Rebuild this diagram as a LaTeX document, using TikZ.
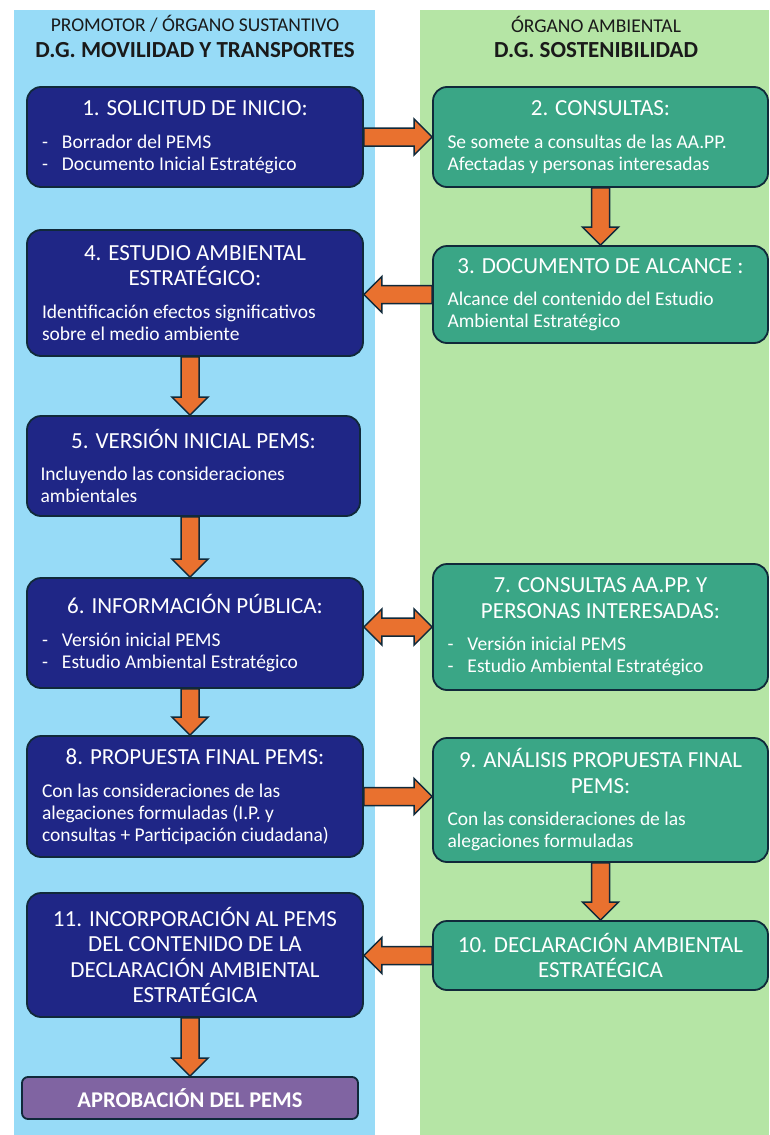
\documentclass[tikz,border=0pt]{standalone}
\usepackage{fontspec}
\setmainfont{Carlito}
\usetikzlibrary{calc,positioning}

\definecolor{bgleft}{HTML}{97DBF7}
\definecolor{bgright}{HTML}{B5E5A5}
\definecolor{navybox}{HTML}{1F2686}
\definecolor{tealbox}{HTML}{3AA686}
\definecolor{purplebox}{HTML}{8064A2}
\definecolor{edge}{HTML}{10293A}
\definecolor{arrorange}{HTML}{E9712F}
\definecolor{headtext}{HTML}{1A1A1A}

\newcommand{\titlesize}{\fontsize{23}{25.5}\selectfont}
\newcommand{\bodysize}{\fontsize{19.5}{22}\selectfont}
\newcommand{\bodytext}[1]{\parbox[t]{306pt}{\bodysize\raggedright #1}}
\newcommand{\itm}{\makebox[20pt][l]{-}}

% block arrow from #1 to #2
\newcommand{\blockarrow}[2]{%
  \coordinate (ba-h) at ($(#2)!18pt!(#1)$);
  \draw[blockarr] ($(#1)!9pt!90:(#2)$) -- ($(ba-h)!9pt!90:(#2)$) -- ($(ba-h)!18pt!90:(#2)$)
    -- (#2) -- ($(ba-h)!18pt!-90:(#2)$) -- ($(ba-h)!9pt!-90:(#2)$) -- ($(#1)!9pt!-90:(#2)$) -- cycle;}
% block arrow with two heads
\newcommand{\dblockarrow}[2]{%
  \coordinate (da-a) at ($(#1)!18pt!(#2)$);
  \coordinate (da-b) at ($(#2)!18pt!(#1)$);
  \draw[blockarr] (#1) -- ($(da-a)!18pt!90:(#2)$) -- ($(da-a)!9pt!90:(#2)$) -- ($(da-b)!9pt!-90:(#1)$)
    -- ($(da-b)!18pt!-90:(#1)$) -- (#2) -- ($(da-b)!18pt!90:(#1)$) -- ($(da-b)!9pt!90:(#1)$)
    -- ($(da-a)!9pt!-90:(#2)$) -- ($(da-a)!18pt!-90:(#2)$) -- cycle;}

\tikzset{
  stepbox/.style={draw=edge, line width=1.8pt, rounded corners=14pt, text=white,
    inner sep=0pt, align=center, font=\titlesize},
  stepL/.style={stepbox, fill=navybox, minimum width=336pt},
  stepR/.style={stepbox, fill=tealbox, minimum width=335pt},
  blockarr/.style={draw=edge, line width=1.5pt, fill=arrorange, line join=miter},
  header/.style={text=headtext, font=\fontsize{19.5}{22}\selectfont},
  headerbf/.style={text=headtext, font=\bfseries\fontsize{23}{26}\selectfont},
}

\begin{document}
\begin{tikzpicture}[x=1pt,y=-1pt]
\useasboundingbox (0,0) rectangle (769,1135);
\fill[bgleft] (14,10) rectangle (375,1135);
\fill[bgright] (420,10) rectangle (769,1135);

% column headers
\node (hl1) [header] at (195,24) {PROMOTOR / ÓRGANO SUSTANTIVO};
\node (hl2) [headerbf] at (195,50) {D.G. MOVILIDAD Y TRANSPORTES};
\node (hr1) [header] at (596,24) {ÓRGANO AMBIENTAL};
\node (hr2) [headerbf] at (596,50) {D.G. SOSTENIBILIDAD};

% steps
\node (s1) [stepL, minimum height=100pt] at (195,137)
  {1. SOLICITUD DE INICIO:\\[7pt]\bodytext{\itm Borrador del PEMS\\\itm Documento Inicial Estratégico}};
\node (s2) [stepR, minimum height=100pt] at (600.5,137)
  {2. CONSULTAS:\\[7pt]\bodytext{Se somete a consultas de las AA.PP.\\Afectadas y personas interesadas}};
\node (s3) [stepR, minimum height=97pt] at (600.5,294.5)
  {3. DOCUMENTO DE ALCANCE :\\[7pt]\bodytext{Alcance del contenido del Estudio\\Ambiental Estratégico}};
\node (s4) [stepL, minimum height=126pt] at (195,293)
  {4. ESTUDIO AMBIENTAL\\ESTRATÉGICO:\\[7pt]\bodytext{Identificación efectos significativos\\sobre el medio ambiente}};
\node (s5) [stepL, minimum height=100pt, minimum width=333pt] at (193.5,466)
  {5. VERSIÓN INICIAL PEMS:\\[7pt]\bodytext{Incluyendo las consideraciones\\ambientales}};
\node (s6) [stepL, minimum height=110pt] at (195,633)
  {6. INFORMACIÓN PÚBLICA:\\[7pt]\bodytext{\itm Versión inicial PEMS\\\itm Estudio Ambiental Estratégico}};
\node (s7) [stepR, minimum height=126pt] at (600.5,627)
  {7. CONSULTAS AA.PP. Y\\PERSONAS INTERESADAS:\\[7pt]\bodytext{\itm Versión inicial PEMS\\\itm Estudio Ambiental Estratégico}};
\node (s8) [stepL, minimum height=121pt] at (195,796.5)
  {8. PROPUESTA FINAL PEMS:\\[7pt]\bodytext{Con las consideraciones de las\\alegaciones formuladas (I.P. y\\consultas + Participación ciudadana)}};
\node (s9) [stepR, minimum height=124pt] at (600.5,800)
  {9. ANÁLISIS PROPUESTA FINAL\\PEMS:\\[7pt]\bodytext{Con las consideraciones de las\\alegaciones formuladas}};
\node (s10) [stepR, minimum height=69pt] at (600.5,955.5)
  {10. DECLARACIÓN AMBIENTAL\\ESTRATÉGICA};
\node (s11) [stepL, minimum height=124pt] at (195,955)
  {11. INCORPORACIÓN AL PEMS\\DEL CONTENIDO DE LA\\DECLARACIÓN AMBIENTAL\\ESTRATÉGICA};
\node (apr) [stepbox, fill=purplebox, rounded corners=6pt, minimum width=336pt, minimum height=42pt,
  font=\bfseries\fontsize{22.5}{25}\selectfont] at (190,1098) {APROBACIÓN DEL PEMS};

% arrows
\blockarrow{s1.east}{s1.east -| s2.west}
\blockarrow{s2.south}{s2.south |- s3.north}
\blockarrow{s3.west}{s3.west -| s4.east}
\blockarrow{s4.south -| apr}{s5.north -| apr}
\blockarrow{s5.south -| apr}{s6.north -| apr}
\dblockarrow{s6.east |- s7.west}{s7.west}
\blockarrow{s6.south -| apr}{s8.north -| apr}
\blockarrow{s8.east}{s8.east -| s9.west}
\blockarrow{s9.south}{s9.south |- s10.north}
\blockarrow{s10.west}{s10.west -| s11.east}
\blockarrow{s11.south -| apr}{apr.north}
\end{tikzpicture}
\end{document}
